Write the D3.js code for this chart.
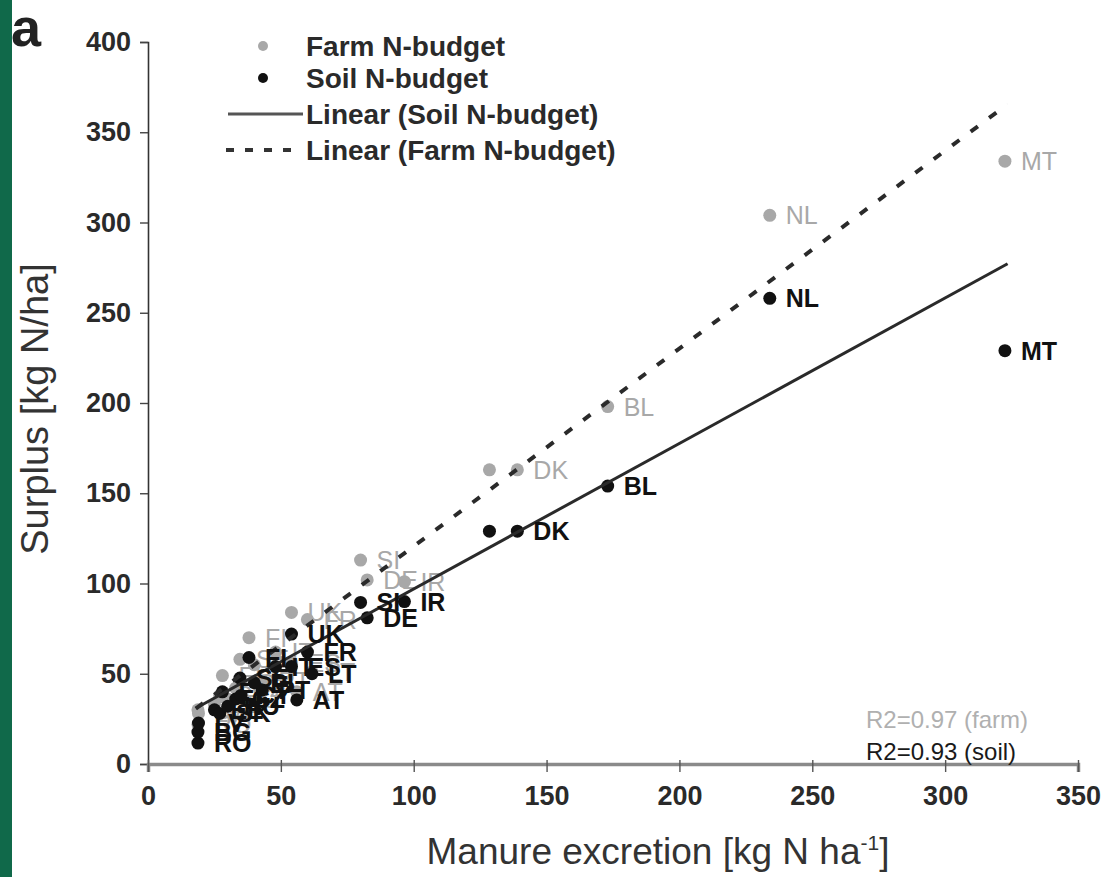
<!DOCTYPE html>
<html>
<head>
<meta charset="utf-8">
<script src="https://cdn.jsdelivr.net/npm/d3@7/dist/d3.min.js"></script>
<style>
  html, body { margin: 0; padding: 0; background: #fff; }
  svg { display: block; font-family: "Liberation Sans", Arial, sans-serif; }
</style>
</head>
<body>
<svg id="chart" width="1107" height="877"></svg>
<script>
// Country codes (same order for both budgets)
const countries = ["MT","NL","BL","DK","LU","IR","DE","SI","UK","FR","FI","SE","EL","LT","ES","PT","AT","RO","BG","LV","EE","PL","CZ","SK","HU","IT","CY"];
// Point labels (LU sits under the DK marker, so it carries no label)
const pointLabels = ["MT","NL","BL","DK","","IR","DE","SI","UK","FR","FI","SE","EL","LT","ES","PT","AT","RO","BG","LV","EE","PL","CZ","SK","HU","IT","CY"];
// Manure excretion [kg N/ha]
const manure    = [322.5, 234, 173, 139, 128.5, 96.5, 82.5, 80, 54, 60, 38, 34.6, 28, 61.7, 54, 43, 56, 18.8, 18.8, 19, 25, 40, 33, 27, 30, 48, 35];
// Surplus, farm N-budget [kg N/ha]
const farmSurplus = [334, 304, 198, 163, 163, 101, 102, 113, 84, 80, 70, 58, 49, 51, 56, 46, 40, 22, 30, 28, 33, 55, 42, 38, 36, 62, 45];
// Surplus, soil N-budget [kg N/ha]
const soilSurplus = [229, 258, 154, 129, 129, 90, 81, 89.5, 72, 62, 59, 47.6, 40, 50, 54, 41, 35.5, 11.6, 17.7, 22.7, 30, 45, 36, 28, 32, 54, 38];
// Linear trend lines: [slope, intercept]
const farmFit = [1.096, 11.0];
const soilFit = [0.806, 16.4];
const fitRange = [18, 323.5];
// Axis ticks
const xTicks = [0, 50, 100, 150, 200, 250, 300, 350];
const yTicks = [0, 50, 100, 150, 200, 250, 300, 350, 400];
// Goodness of fit
const r2Labels = ["R2=0.97 (farm)", "R2=0.93 (soil)"];

const svg = d3.select("#chart");

// green page edge
svg.append("rect").attr("x", 0).attr("y", 0).attr("width", 12).attr("height", 877).attr("fill", "#10694a");

const x = d3.scaleLinear().domain([0, 350]).range([148, 1078]);
const y = d3.scaleLinear().domain([0, 400]).range([764, 42]);

const GRAY = "#a8a8a8", BLACK = "#111";

// Axes
const yAxis = svg.append("g").attr("transform", `translate(${x(0)},0)`)
  .call(d3.axisLeft(y).tickValues(yTicks).tickSize(8).tickPadding(9).tickFormat(d3.format("d")));
yAxis.select(".domain").attr("stroke", "#333").attr("stroke-width", 1.6);
yAxis.selectAll(".tick line").attr("stroke", "#444").attr("stroke-width", 1.4);
yAxis.selectAll(".tick text").attr("font-size", 27).attr("font-weight", "bold").attr("fill", "#2a2a2a")
  .attr("font-family", "Liberation Sans, Arial, sans-serif");

const xAxis = svg.append("g").attr("transform", `translate(0,${y(0)})`)
  .call(d3.axisBottom(x).tickValues(xTicks).tickSize(8).tickPadding(14).tickFormat(d3.format("d")));
xAxis.select(".domain").attr("stroke", "#8a8a8a").attr("stroke-width", 3.5);
xAxis.selectAll(".tick line").attr("stroke", "#555").attr("stroke-width", 1.4).attr("y1", -4);
xAxis.selectAll(".tick text").attr("font-size", 27).attr("font-weight", "bold").attr("fill", "#2a2a2a")
  .attr("font-family", "Liberation Sans, Arial, sans-serif");

// Axis titles
svg.append("text").attr("x", 658).attr("y", 864).attr("text-anchor", "middle")
  .attr("font-size", 37).attr("fill", "#333")
  .html('Manure excretion [kg N ha<tspan dy="-14" font-size="21">-1</tspan><tspan dy="14">]</tspan>');
svg.append("text").attr("transform", `translate(48,${(y(0)+y(400))/2 + 6}) rotate(-90)`)
  .attr("text-anchor", "middle").attr("font-size", 38).attr("fill", "#333")
  .text("Surplus [kg N/ha]");

// Panel letter
svg.append("text").attr("x", 11).attr("y", 46).attr("font-size", 54).attr("font-weight", "bold")
  .attr("fill", "#222").text("a");

const data = countries.map((c, i) => ({ c, label: pointLabels[i], m: manure[i], f: farmSurplus[i], s: soilSurplus[i] }));

// Farm budget points and labels
svg.append("g").selectAll("circle").data(data).join("circle")
  .attr("cx", d => x(d.m)).attr("cy", d => y(d.f)).attr("r", 6.5).attr("fill", GRAY);
svg.append("g").selectAll("text").data(data.filter(d => d.label)).join("text")
  .attr("x", d => x(d.m) + 16).attr("y", d => y(d.f)).attr("dy", "0.36em")
  .attr("font-size", 25).attr("fill", GRAY).text(d => d.label);

// Soil budget points
svg.append("g").selectAll("circle").data(data).join("circle")
  .attr("cx", d => x(d.m)).attr("cy", d => y(d.s)).attr("r", 6.5).attr("fill", BLACK);

// Trend lines
const fitLine = fit => fitRange.map(v => [x(v), y(fit[0] * v + fit[1])]);
svg.append("path").attr("d", d3.line()(fitLine(soilFit))).attr("stroke", "#2a2a2a")
  .attr("stroke-width", 3).attr("fill", "none");
svg.append("path").attr("d", d3.line()(fitLine(farmFit))).attr("stroke", "#2a2a2a")
  .attr("stroke-width", 4).attr("stroke-dasharray", "9,14").attr("fill", "none");

// Soil budget labels
svg.append("g").selectAll("text").data(data.filter(d => d.label)).join("text")
  .attr("x", d => x(d.m) + 16).attr("y", d => y(d.s)).attr("dy", "0.36em")
  .attr("font-size", 25).attr("font-weight", "bold").attr("fill", BLACK).text(d => d.label);

// R² annotations
svg.append("text").attr("x", 866).attr("y", 728).attr("font-size", 24).attr("fill", "#b0b0b0").text(r2Labels[0]);
svg.append("text").attr("x", 866).attr("y", 760).attr("font-size", 24).attr("fill", "#1a1a1a").text(r2Labels[1]);

// Legend
const lg = svg.append("g").attr("font-size", 28).attr("font-weight", "bold").attr("fill", "#2a2a2a");
const legendRows = [
  { label: "Farm N-budget", y: 46, kind: "dot", color: GRAY },
  { label: "Soil N-budget", y: 78, kind: "dot", color: BLACK },
  { label: "Linear (Soil N-budget)", y: 114, kind: "solid" },
  { label: "Linear (Farm N-budget)", y: 150, kind: "dash" }
];
legendRows.forEach(r => {
  if (r.kind === "dot") {
    lg.append("circle").attr("cx", 263).attr("cy", r.y).attr("r", 5).attr("fill", r.color);
  } else if (r.kind === "solid") {
    lg.append("line").attr("x1", 228).attr("x2", 303).attr("y1", r.y).attr("y2", r.y)
      .attr("stroke", "#555").attr("stroke-width", 3);
  } else {
    lg.append("line").attr("x1", 226).attr("x2", 300).attr("y1", r.y).attr("y2", r.y)
      .attr("stroke", "#333").attr("stroke-width", 4).attr("stroke-dasharray", "8,11");
  }
  lg.append("text").attr("x", 306).attr("y", r.y).attr("dy", "0.36em").text(r.label);
});
</script>
</body>
</html>
